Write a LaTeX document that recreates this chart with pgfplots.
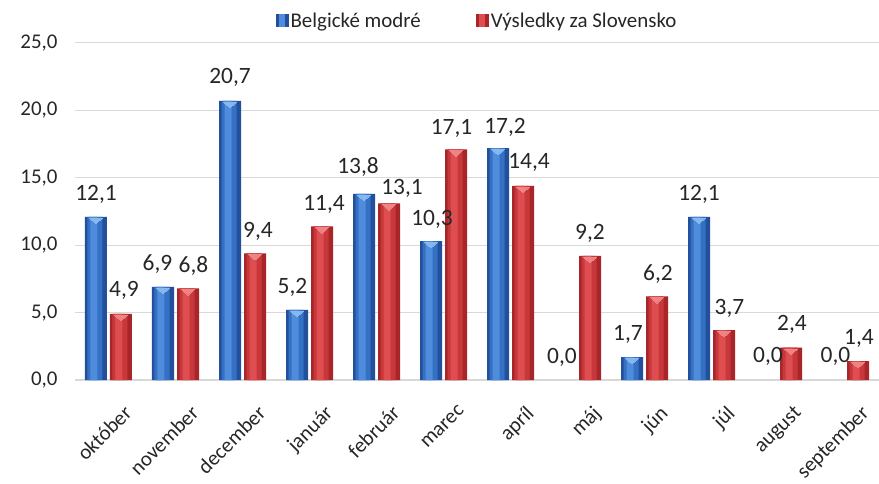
\documentclass[border=0pt]{standalone}
\usepackage{pgfplots}
\usepackage{pgfplotstable}
\pgfplotsset{compat=1.18}
\usepackage{fontspec}
\setmainfont{Carlito}
\definecolor{bdark}{HTML}{22509A}
\definecolor{bmid}{HTML}{3470C4}
\definecolor{blite}{HTML}{4F8CDC}
\definecolor{btri}{HTML}{86B8EE}
\definecolor{rdark}{HTML}{A82629}
\definecolor{rmid}{HTML}{C8383B}
\definecolor{rlite}{HTML}{DE4E50}
\definecolor{rtri}{HTML}{EE8486}
\definecolor{txt}{HTML}{262626}
\definecolor{gridc}{HTML}{D9D9D9}
% x, blue value, red value, label x offsets and label gaps (bp)
\pgfplotstableread{
x b r bdx bdy rdx rdy
0 12.1 4.9 0 16 3 17
1 6.9 6.8 -5.5 16 5.5 16
2 20.7 9.4 0 17 3 16
3 5.2 11.4 -4.5 16 2 16
4 13.8 13.1 -6 20 13 9
5 10.3 17.1 1 16 -4.5 15
6 17.2 14.4 7 15 6 17
7 0.0 9.2 -3 17 0 16
8 1.7 6.2 -4 17 1 16
9 12.1 3.7 0 16 5.5 16
10 0.0 2.4 2 18 1 17
11 0.0 1.4 2.5 18 1 17
}\data
\begin{document}
\begin{tikzpicture}
\begin{axis}[
  scale only axis,
  width=804bp, height=337bp,
  xmin=-0.5, xmax=11.5,
  ymin=0, ymax=25,
  ytick={0,5,10,15,20,25},
  xtick={0,...,11},
  xticklabels={október,november,december,január,február,marec,apríl,máj,jún,júl,august,september},
  font=\fontsize{21}{25}\selectfont,
  every tick label/.append style={text=txt},
  xticklabel style={rotate=45, anchor=north east, inner sep=2bp, yshift=-25bp, xshift=-5bp},
  yticklabel style={xshift=-14bp},
  /pgf/number format/.cd, use comma, fixed, fixed zerofill, precision=1, assume math mode=true,
  /pgfplots/.cd,
  axis y line*=left, axis x line*=bottom,
  y axis line style={draw=none},
  x axis line style={draw=gridc, line width=1.2bp},
  major tick length=0pt,
  ymajorgrids, grid style={gridc, line width=1bp},
  legend style={at={(0.5,1.0)}, anchor=south, draw=none, fill=none, yshift=10bp,
    legend columns=2, font=\fontsize{21}{25}\selectfont, text=txt,
    /tikz/every even column/.append style={column sep=53bp},
    /tikz/every odd column/.append style={inner sep=4bp}},
  clip=false,
]
% main bars
\addplot[ybar, bar width=22bp, bar shift=-12.5bp, fill=bdark, draw=none, restrict y to domain=0.05:30,
  legend image code/.code={\fill[bdark] (0bp,-6bp) rectangle (13bp,7bp);\fill[blite] (3bp,-6bp) rectangle (9bp,7bp);}]
  table[x=x, y=b] {\data};
\addlegendentry{Belgické modré}
\addplot[ybar, bar width=22bp, bar shift=12.5bp, fill=rdark, draw=none, restrict y to domain=0.05:30,
  legend image code/.code={\fill[rdark] (0bp,-6bp) rectangle (13bp,7bp);\fill[rlite] (3bp,-6bp) rectangle (9bp,7bp);}]
  table[x=x, y=r] {\data};
\addlegendentry{Výsledky za Slovensko}
% lighter inner stripes (cylinder look)
\addplot[ybar, forget plot, bar width=15bp, bar shift=-13.5bp, fill=bmid, draw=none, restrict y to domain=0.05:30] table[x=x, y=b] {\data};
\addplot[ybar, forget plot, bar width=7bp, bar shift=-14.5bp, fill=blite, draw=none, restrict y to domain=0.05:30] table[x=x, y=b] {\data};
\addplot[ybar, forget plot, bar width=15bp, bar shift=11.5bp, fill=rmid, draw=none, restrict y to domain=0.05:30] table[x=x, y=r] {\data};
\addplot[ybar, forget plot, bar width=7bp, bar shift=10.5bp, fill=rlite, draw=none, restrict y to domain=0.05:30] table[x=x, y=r] {\data};
% top highlights
\addplot[forget plot, only marks, color=btri, restrict y to domain=0.05:30, mark=triangle*, mark size=7bp,
  mark options={xshift=-12.5bp, yshift=-3.2bp, yscale=0.5, rotate=180, fill=btri, draw=btri, line width=0pt}] table[x=x, y=b] {\data};
\addplot[forget plot, only marks, color=rtri, restrict y to domain=0.05:30, mark=triangle*, mark size=7bp,
  mark options={xshift=12.5bp, yshift=-3.2bp, yscale=0.5, rotate=180, fill=rtri, draw=rtri, line width=0pt}] table[x=x, y=r] {\data};
% data labels
\addplot[forget plot, draw=none, mark=none, nodes near coords,
  visualization depends on={\thisrow{bdx} \as \ldx},
  visualization depends on={\thisrow{bdy} \as \ldy},
  nodes near coords style={text=txt, font=\fontsize{23.5}{28}\selectfont, anchor=base, inner sep=0pt,
    xshift=-12.5bp, xshift=\ldx bp, yshift=\ldy bp}]
  table[x=x, y=b] {\data};
\addplot[forget plot, draw=none, mark=none, nodes near coords,
  visualization depends on={\thisrow{rdx} \as \ldx},
  visualization depends on={\thisrow{rdy} \as \ldy},
  nodes near coords style={text=txt, font=\fontsize{23.5}{28}\selectfont, anchor=base, inner sep=0pt,
    xshift=12.5bp, xshift=\ldx bp, yshift=\ldy bp}]
  table[x=x, y=r] {\data};
\end{axis}
\pgfresetboundingbox
\path[use as bounding box] ([shift={(-75bp,-104bp)}]current axis.south west) rectangle ([shift={(0bp,43bp)}]current axis.north east);
\end{tikzpicture}
\end{document}
